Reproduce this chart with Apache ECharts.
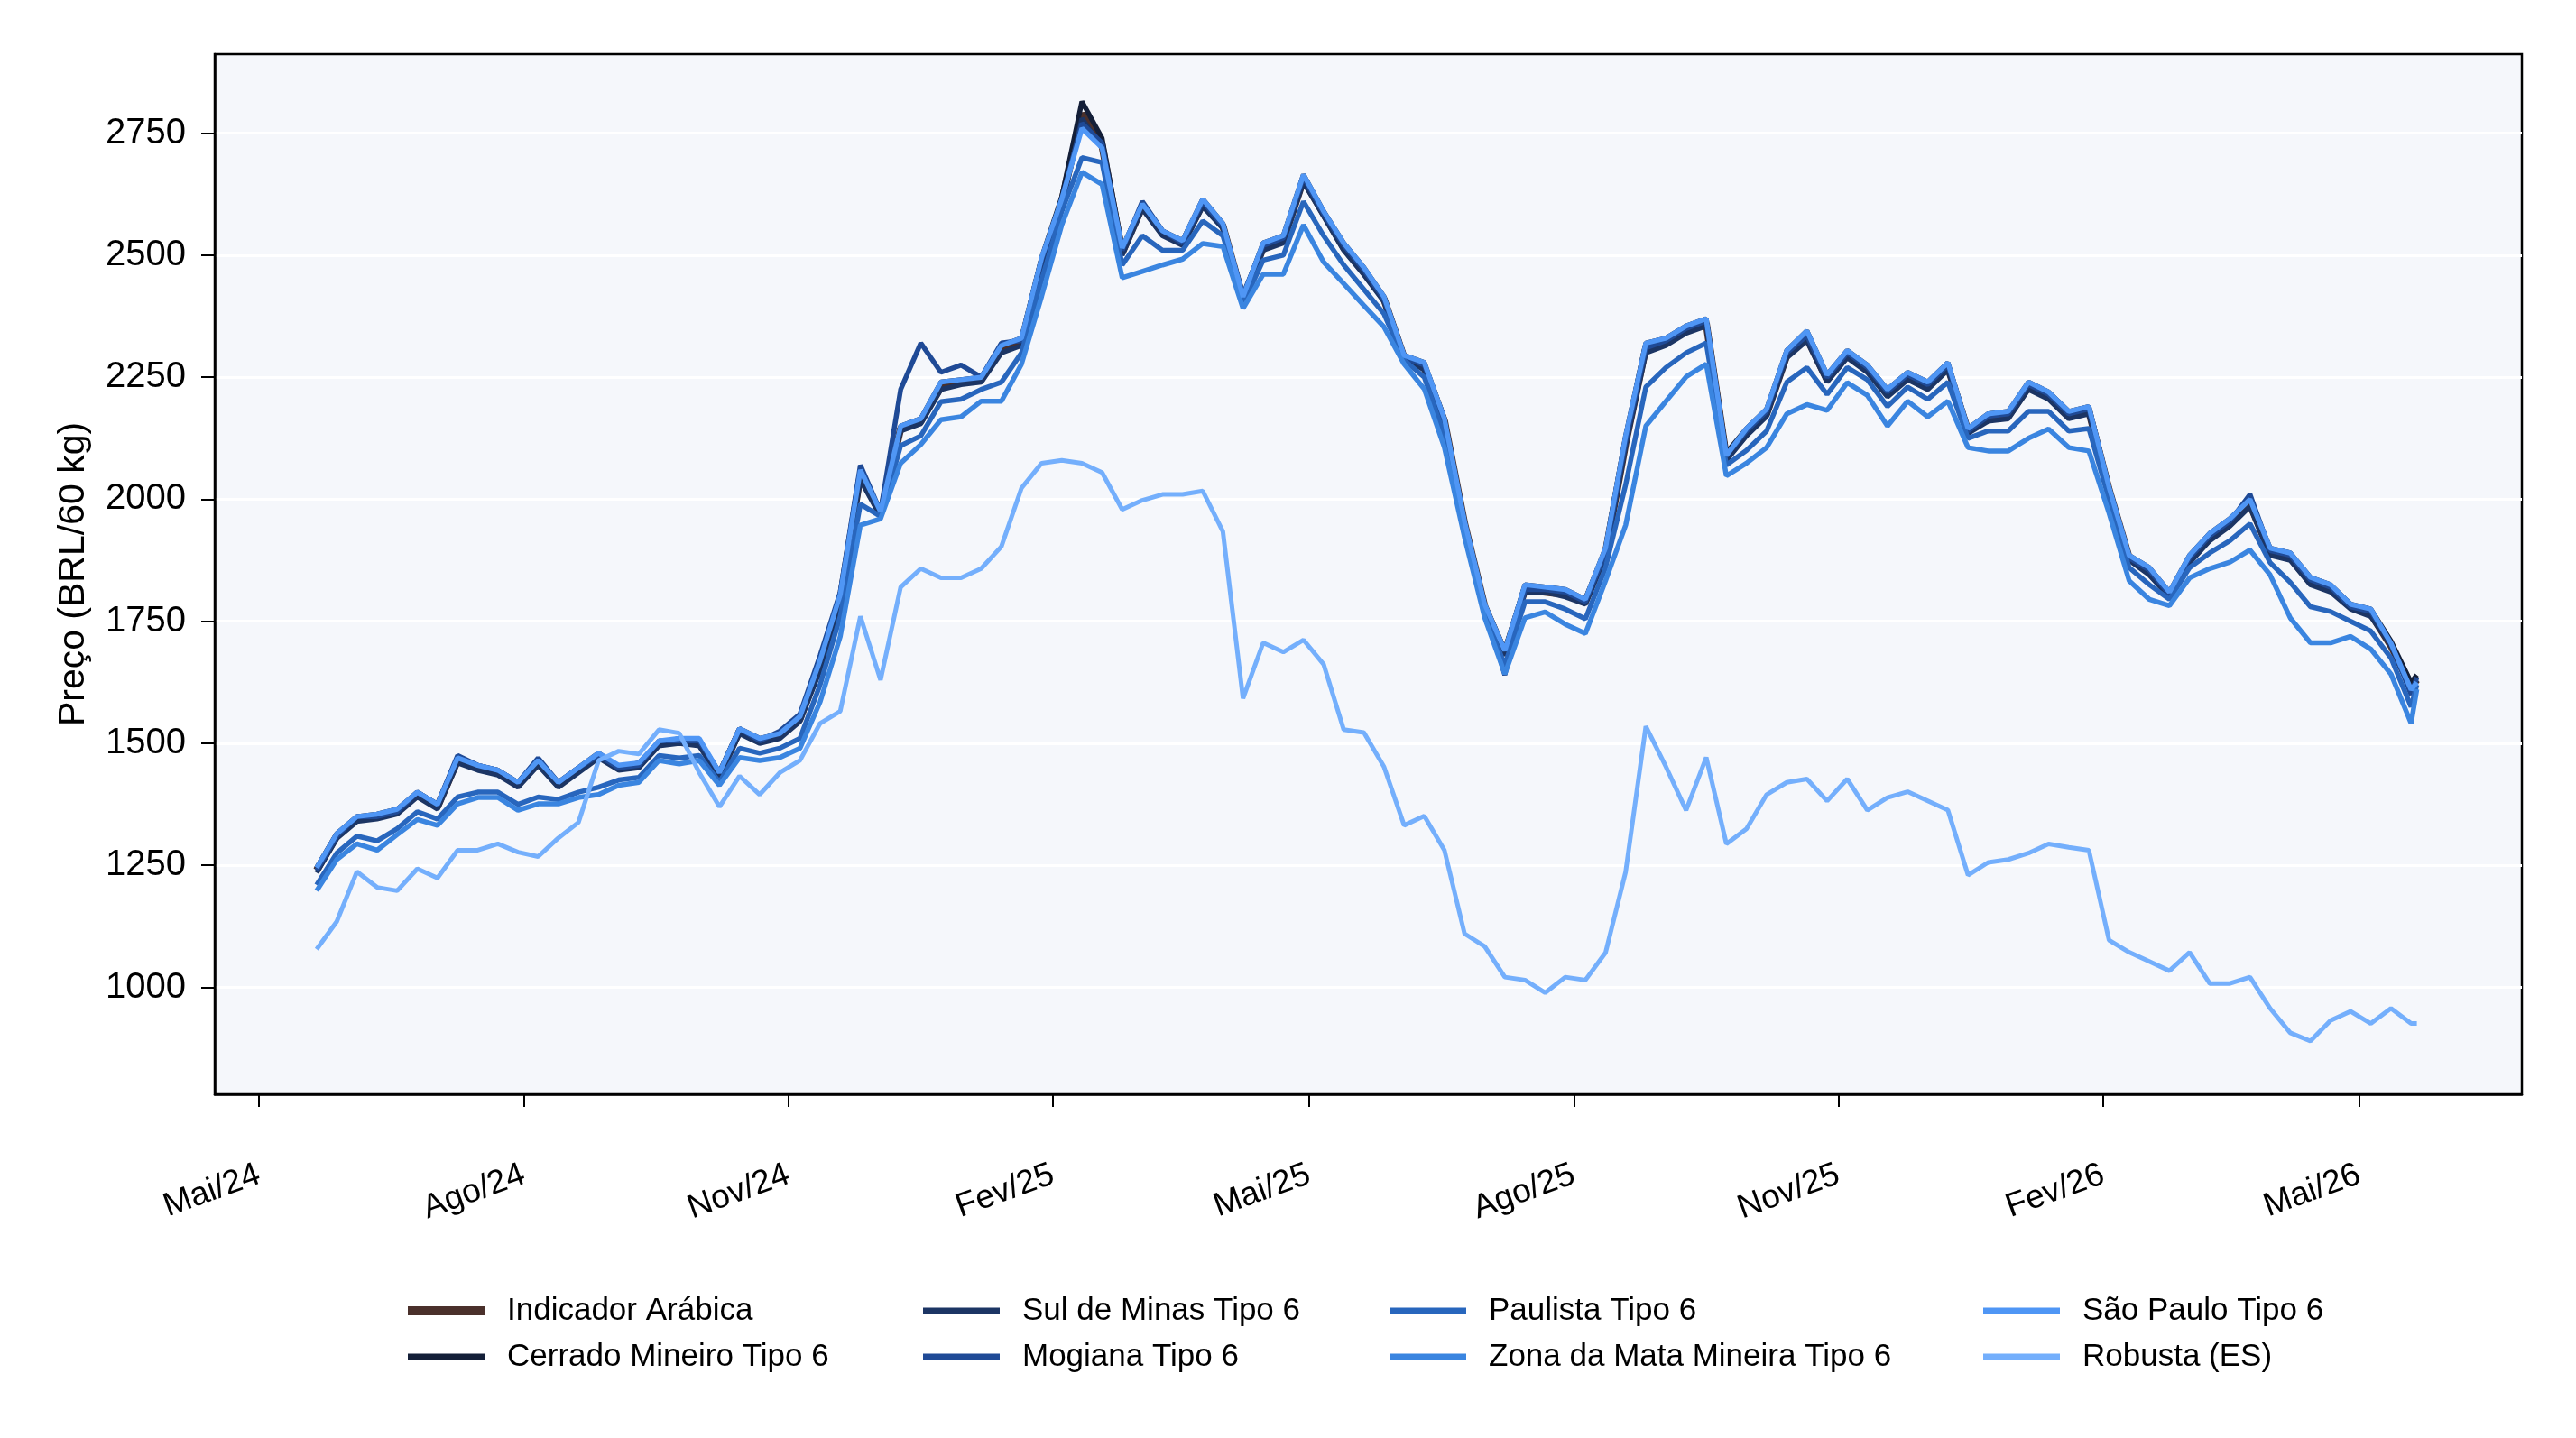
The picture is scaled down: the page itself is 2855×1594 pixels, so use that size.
<!DOCTYPE html>
<html>
<head>
<meta charset="utf-8">
<title>Preço do café</title>
<script src="https://cdn.jsdelivr.net/npm/echarts@6/dist/echarts.min.js"></script>
<style>
  html, body { margin: 0; padding: 0; background: #fff; }
  #chart { width: 2855px; height: 1594px; }
</style>
</head>
<body>
<div id="chart"></div>
<script>
// pontos semanais a partir de 21/05/2024, último ponto em 21/05/2026
const startDate = [2024, 4, 21];
const endDate = '2026-05-21';

const tickDates = ['2024-05-01', '2024-08-01', '2024-11-01', '2025-02-01', '2025-05-01',
  '2025-08-01', '2025-11-01', '2026-02-01', '2026-05-01'];
const tickLabels = ['Mai/24', 'Ago/24', 'Nov/24', 'Fev/25', 'Mai/25', 'Ago/25', 'Nov/25', 'Fev/26', 'Mai/26'];
const yTicks = [1000, 1250, 1500, 1750, 2000, 2250, 2500, 2750];

const indicadorArabica = [
  1240, 1310, 1345, 1350, 1360, 1395, 1370, 1465, 1450, 1440, 1415, 1460, 1415, 1445, 1475, 1450, 1455, 1500, 1505, 1500, 1435,
  1525, 1505, 1515, 1550, 1660, 1795, 2050, 1970, 2145, 2160, 2230, 2240, 2245, 2310, 2320, 2485, 2610, 2790, 2725, 2505, 2600,
  2545, 2525, 2605, 2560, 2410, 2515, 2530, 2655, 2585, 2515, 2465, 2410, 2290, 2270, 2160, 1950, 1780, 1685, 1815, 1810, 1805,
  1790, 1890, 2115, 2310, 2320, 2345, 2360, 2085, 2135, 2175, 2295, 2330, 2245, 2295, 2265, 2215, 2250, 2230, 2270, 2140, 2165,
  2170, 2230, 2210, 2170, 2180, 2020, 1880, 1850, 1805, 1875, 1920, 1950, 1990, 1890, 1880, 1830, 1815, 1780, 1765, 1700, 1615, 1630
];
const cerradoMineiro = [
  1245, 1315, 1350, 1355, 1365, 1400, 1375, 1470, 1455, 1445, 1420, 1465, 1420, 1450, 1480, 1450, 1460, 1500, 1510, 1505, 1440,
  1530, 1510, 1520, 1555, 1670, 1805, 2060, 1975, 2150, 2165, 2240, 2245, 2250, 2315, 2330, 2495, 2620, 2815, 2740, 2515, 2605,
  2550, 2530, 2615, 2565, 2415, 2525, 2540, 2665, 2590, 2525, 2475, 2415, 2295, 2280, 2165, 1955, 1785, 1690, 1825, 1820, 1815,
  1795, 1900, 2130, 2320, 2330, 2355, 2370, 2095, 2145, 2185, 2305, 2345, 2255, 2305, 2275, 2225, 2260, 2240, 2280, 2145, 2175,
  2180, 2240, 2220, 2180, 2190, 2025, 1885, 1860, 1810, 1885, 1930, 1960, 2000, 1900, 1890, 1840, 1825, 1785, 1775, 1710, 1625, 1640
];
const sulDeMinas = [
  1235, 1305, 1340, 1345, 1355, 1390, 1365, 1460, 1445, 1435, 1410, 1455, 1410, 1440, 1470, 1445, 1450, 1495, 1500, 1495, 1430,
  1520, 1500, 1510, 1545, 1650, 1790, 2040, 1965, 2140, 2155, 2225, 2235, 2240, 2300, 2315, 2480, 2600, 2780, 2720, 2500, 2595,
  2540, 2520, 2600, 2555, 2405, 2510, 2525, 2650, 2580, 2510, 2460, 2405, 2290, 2265, 2155, 1945, 1775, 1680, 1810, 1810, 1800,
  1785, 1885, 2110, 2300, 2315, 2340, 2355, 2080, 2130, 2170, 2290, 2325, 2240, 2290, 2260, 2210, 2245, 2225, 2265, 2135, 2160,
  2165, 2225, 2205, 2165, 2175, 2015, 1875, 1845, 1800, 1870, 1915, 1945, 1985, 1885, 1875, 1825, 1810, 1775, 1760, 1700, 1610, 1630
];
const mogiana = [
  1240, 1310, 1350, 1350, 1360, 1400, 1375, 1475, 1455, 1445, 1420, 1470, 1420, 1450, 1475, 1450, 1455, 1505, 1505, 1505, 1440,
  1530, 1505, 1525, 1560, 1680, 1810, 2070, 1975, 2225, 2320, 2260, 2275, 2250, 2320, 2325, 2490, 2615, 2770, 2730, 2510, 2610,
  2550, 2525, 2610, 2560, 2420, 2520, 2535, 2660, 2585, 2520, 2470, 2410, 2290, 2275, 2160, 1950, 1780, 1640, 1815, 1815, 1810,
  1790, 1890, 2120, 2310, 2325, 2350, 2365, 2090, 2140, 2180, 2300, 2335, 2250, 2300, 2270, 2220, 2255, 2235, 2275, 2140, 2170,
  2175, 2235, 2215, 2175, 2185, 2020, 1880, 1855, 1805, 1880, 1925, 1955, 2010, 1895, 1885, 1835, 1820, 1780, 1770, 1705, 1600, 1635
];
const paulista = [
  1210, 1275, 1310, 1300, 1325, 1360, 1345, 1390, 1400, 1400, 1375, 1390, 1385, 1400, 1410, 1425, 1430, 1475, 1470, 1475, 1420,
  1490, 1480, 1490, 1510, 1620, 1760, 1990, 1965, 2110, 2130, 2200, 2205, 2225, 2240, 2300, 2450, 2590, 2700, 2690, 2480, 2540,
  2510, 2510, 2570, 2540, 2400, 2490, 2500, 2610, 2540, 2480, 2430, 2380, 2285, 2250, 2130, 1935, 1765, 1660, 1790, 1790, 1775,
  1755, 1860, 2030, 2230, 2270, 2300, 2320, 2070, 2100, 2140, 2240, 2270, 2215, 2270, 2245, 2190, 2230, 2205, 2240, 2125, 2140,
  2140, 2180, 2180, 2140, 2145, 2000, 1860, 1825, 1795, 1860, 1890, 1915, 1950, 1870, 1830, 1780, 1770, 1750, 1730, 1675, 1575, 1620
];
const zonaDaMata = [
  1198, 1262, 1294, 1281, 1313, 1344, 1332, 1376, 1389, 1389, 1363, 1376, 1376, 1389, 1395, 1414, 1420, 1465, 1458, 1465, 1414,
  1471, 1465, 1471, 1490, 1585, 1719, 1947, 1960, 2074, 2112, 2163, 2169, 2201, 2201, 2277, 2416, 2562, 2670, 2645, 2454, 2467,
  2480, 2492, 2524, 2518, 2391, 2461, 2461, 2562, 2486, 2442, 2397, 2353, 2277, 2226, 2106, 1922, 1757, 1642, 1757, 1769, 1744,
  1725, 1833, 1947, 2150, 2201, 2251, 2277, 2048, 2074, 2106, 2175, 2194, 2182, 2239, 2213, 2150, 2201, 2169, 2201, 2106, 2099,
  2099, 2125, 2144, 2106, 2099, 1972, 1833, 1795, 1782, 1839, 1858, 1871, 1896, 1845, 1757, 1706, 1706, 1719, 1693, 1642, 1541, 1611
];
const saoPaulo = [
  1245, 1315, 1350, 1355, 1365, 1400, 1375, 1470, 1455, 1445, 1420, 1465, 1420, 1450, 1480, 1455, 1460, 1505, 1510, 1510, 1440,
  1530, 1510, 1520, 1555, 1670, 1805, 2060, 1975, 2150, 2165, 2240, 2245, 2250, 2315, 2330, 2495, 2615, 2760, 2720, 2515, 2605,
  2550, 2530, 2615, 2565, 2415, 2525, 2540, 2665, 2590, 2525, 2475, 2415, 2295, 2280, 2165, 1955, 1785, 1690, 1825, 1820, 1815,
  1795, 1900, 2130, 2320, 2330, 2355, 2370, 2090, 2145, 2185, 2305, 2345, 2255, 2305, 2275, 2225, 2260, 2240, 2280, 2145, 2175,
  2180, 2240, 2220, 2180, 2190, 2025, 1885, 1860, 1810, 1885, 1930, 1960, 2000, 1900, 1890, 1840, 1825, 1785, 1775, 1705, 1610, 1625
];
const robustaES = [
  1078, 1135, 1237, 1205, 1198, 1243, 1224, 1281, 1281, 1294, 1277, 1268, 1306, 1338, 1465, 1484, 1478, 1528, 1521, 1440, 1370,
  1433, 1395, 1440, 1465, 1541, 1566, 1760, 1630, 1820, 1858, 1839, 1839, 1858, 1903, 2023, 2074, 2080, 2074, 2055, 1979, 1998,
  2010, 2010, 2017, 1934, 1592, 1706, 1687, 1712, 1662, 1528, 1522, 1452, 1332, 1351, 1281, 1110, 1084, 1021, 1015, 989, 1021,
  1015, 1071, 1237, 1535, 1452, 1363, 1471, 1294, 1325, 1395, 1420, 1427, 1382, 1427, 1363, 1389, 1401, 1382, 1363, 1230, 1256,
  1262, 1275, 1294, 1287, 1281, 1097, 1072, 1053, 1034, 1072, 1008, 1008, 1021, 957, 907, 890, 932, 951, 926, 957, 926, 926
];

// datas semanais (timestamps)
const datas = [];
for (let k = 0; k < indicadorArabica.length - 1; k++) {
  datas.push(new Date(startDate[0], startDate[1], startDate[2] + 7 * k).getTime());
}
datas.push(new Date(endDate + 'T00:00:00').getTime());

const tickTimes = tickDates.map(d => new Date(d + 'T00:00:00').getTime());

const FONT = 'Liberation Sans, Arial, sans-serif';

const seriesDefs = [
  { name: 'Indicador Arábica', data: indicadorArabica, color: '#4a302b', width: 8 },
  { name: 'Cerrado Mineiro Tipo 6', data: cerradoMineiro, color: '#141f38', width: 5.5 },
  { name: 'Sul de Minas Tipo 6', data: sulDeMinas, color: '#1c3564', width: 5.5 },
  { name: 'Mogiana Tipo 6', data: mogiana, color: '#1f4a96', width: 5.5 },
  { name: 'Paulista Tipo 6', data: paulista, color: '#2866bd', width: 5.5 },
  { name: 'Zona da Mata Mineira Tipo 6', data: zonaDaMata, color: '#3a85e0', width: 5.5 },
  { name: 'São Paulo Tipo 6', data: saoPaulo, color: '#4f96f5', width: 5.5 },
  { name: 'Robusta (ES)', data: robustaES, color: '#74affc', width: 5 }
];

// posição das entradas da legenda (4 colunas x 2 linhas)
const legendPos = [
  [452, 1433], [452, 1484], [1023, 1433], [1023, 1484],
  [1540, 1433], [1540, 1484], [2198, 1433], [2198, 1484]
];

const chart = echarts.init(document.getElementById('chart'));

chart.setOption({
  backgroundColor: '#ffffff',
  animation: false,
  grid: {
    left: 238,
    right: 60,
    top: 60,
    bottom: 381,
    show: true,
    backgroundColor: '#f5f7fb',
    borderColor: '#000',
    borderWidth: 2.5
  },
  legend: seriesDefs.map((s, i) => ({
    data: [{ name: s.name, icon: 'rect', itemStyle: { color: s.color } }],
    left: legendPos[i][0],
    top: legendPos[i][1],
    padding: 0,
    itemWidth: 85,
    itemHeight: i === 0 ? 10 : 7,
    selectedMode: false,
    textStyle: {
      fontFamily: FONT,
      fontSize: 35,
      color: '#000',
      lineHeight: 40,
      padding: [0, 0, 0, 20]
    }
  })),
  xAxis: {
    type: 'value',
    min: new Date('2024-04-15T14:00:00').getTime(),
    max: new Date('2026-06-26T12:00:00').getTime(),
    axisLine: { show: true, lineStyle: { color: '#000', width: 2.5 } },
    axisTick: {
      show: true,
      length: 14,
      lineStyle: { color: '#000', width: 2 },
      customValues: tickTimes
    },
    splitLine: { show: false },
    axisLabel: {
      customValues: tickTimes,
      rotate: 20,
      margin: 88,
      fontFamily: FONT,
      fontSize: 37,
      color: '#000',
      formatter: function (val) {
        for (let i = 0; i < tickTimes.length; i++) {
          if (Math.abs(tickTimes[i] - val) < 86400000) return tickLabels[i];
        }
        return '';
      }
    }
  },
  yAxis: {
    type: 'value',
    min: 781,
    max: 2912,
    name: 'Preço (BRL/60 kg)',
    nameLocation: 'middle',
    nameGap: 136,
    nameTextStyle: { fontFamily: FONT, fontSize: 41, color: '#000' },
    axisLine: { show: true, lineStyle: { color: '#000', width: 2.5 } },
    axisTick: {
      show: true,
      length: 15,
      lineStyle: { color: '#000', width: 2 },
      customValues: yTicks
    },
    axisLabel: {
      customValues: yTicks,
      margin: 32,
      fontFamily: FONT,
      fontSize: 40,
      color: '#000',
      formatter: function (val) { return String(val); }
    },
    splitLine: { show: true, lineStyle: { color: '#ffffff', width: 3 } }
  },
  series: seriesDefs.map(s => ({
    name: s.name,
    type: 'line',
    showSymbol: false,
    symbol: 'none',
    color: s.color,
    lineStyle: { color: s.color, width: s.width },
    data: datas.map((d, i) => [d, s.data[i]])
  }))
});
</script>
</body>
</html>
